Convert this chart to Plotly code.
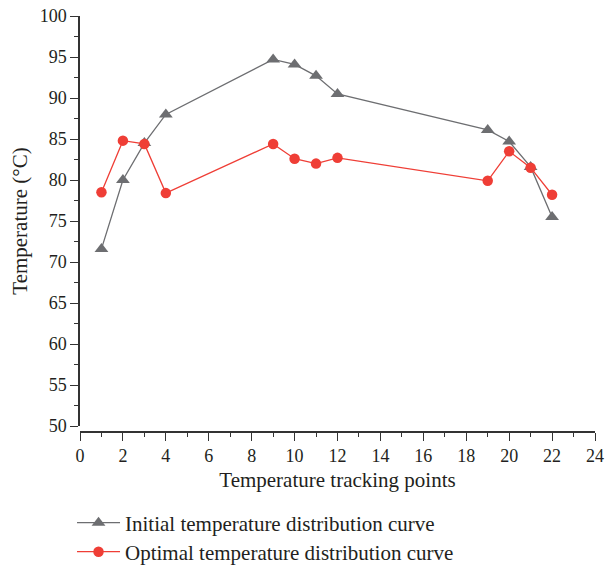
import plotly.graph_objects as go

points = [1, 2, 3, 4, 9, 10, 11, 12, 19, 20, 21, 22]
initial_temp = [71.6, 80.0, 84.5, 88.0, 94.7, 94.1, 92.7, 90.5, 86.1, 84.7, 81.6, 75.5]
optimal_temp = [78.5, 84.8, 84.4, 78.4, 84.4, 82.6, 82.0, 82.7, 79.9, 83.5, 81.5, 78.2]

x_ticks = list(range(0, 25, 2))
y_ticks = list(range(50, 101, 5))

GRAY = "#6d6e71"
RED = "#ef3e36"
FONT = "Liberation Serif"
TXT = "#231f20"
AX = "#333333"

fig = go.Figure()
fig.add_trace(go.Scatter(
    x=points, y=initial_temp, mode="lines+markers",
    name="Initial temperature distribution curve",
    line=dict(color=GRAY, width=1.3),
    marker=dict(symbol="triangle-up", size=12, color=GRAY),
    legend="legend", showlegend=True,
))
fig.add_trace(go.Scatter(
    x=points, y=optimal_temp, mode="lines+markers",
    name="Optimal temperature distribution curve",
    line=dict(color=RED, width=1.3),
    marker=dict(symbol="circle", size=10.5, color=RED),
    legend="legend2", showlegend=True,
))

axis_common = dict(
    showline=True, linecolor=AX, linewidth=1.5,
    ticks="outside", ticklen=8, tickwidth=1.3, tickcolor=AX,
    showgrid=False, zeroline=False,
    tickfont=dict(family=FONT, size=18, color=TXT),
)

legend_common = dict(
    xanchor="left", yanchor="middle", itemwidth=43,
    font=dict(family=FONT, size=21, color=TXT), bgcolor="rgba(0,0,0,0)",
)

fig.update_layout(
    width=608, height=567,
    margin=dict(l=80, r=13, t=16, b=135, autoexpand=False),
    plot_bgcolor="white", paper_bgcolor="white",
    showlegend=True,
    font=dict(family=FONT, color=TXT),
    xaxis=dict(
        range=[0, 24], tickvals=x_ticks,
        anchor="free", position=0,
        minor=dict(ticks="outside", ticklen=4, tickwidth=1.2, tickcolor=AX, dtick=1),
        title=dict(text="Temperature tracking points", font=dict(family=FONT, size=21), standoff=6),
        **axis_common,
    ),
    yaxis=dict(
        range=[50, 100], tickvals=y_ticks, domain=[0.0144, 1],
        minor=dict(ticks="outside", ticklen=4, tickwidth=1.2, tickcolor=AX, dtick=2.5),
        title=dict(text="Temperature (°C)", font=dict(family=FONT, size=21), standoff=6),
        **axis_common,
    ),
    legend=dict(x=-0.0155, y=-0.2188, **legend_common),
    legend2=dict(x=-0.0155, y=-0.2885, **legend_common),
)

fig.write_html("out.html")
